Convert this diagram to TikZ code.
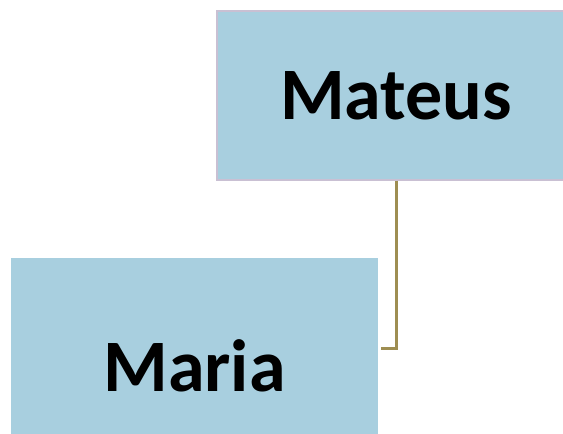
\documentclass[tikz,border=0pt]{standalone}
\usepackage{fontspec}
\setmainfont{Carlito}
\usetikzlibrary{positioning}
\definecolor{boxblue}{RGB}{168,207,223}
\definecolor{boxedge}{RGB}{201,192,211}
\definecolor{linkolive}{RGB}{158,142,82}
\begin{document}
\begin{tikzpicture}[
    x=1pt, y=1pt,
    namebox/.style={rectangle, fill=boxblue, inner sep=0pt, font=\fontsize{74}{80}\selectfont\bfseries},
    linkline/.style={draw=linkolive, line width=3pt}
]
\useasboundingbox (0,0) rectangle (563,434);
\clip (0,0) rectangle (563,434);

% Boxes
\node[namebox, draw=boxedge, line width=1.5pt, minimum width=358pt, minimum height=169pt] (mateus) at (396,338.5) {Mateus};
\node[namebox, minimum width=367pt, minimum height=216pt] (maria) at (194.5,68) {Maria};

% Connector
\draw[linkline, shorten >=3pt] (mateus.south) |- ([yshift=17pt]maria.east);
\end{tikzpicture}
\end{document}
